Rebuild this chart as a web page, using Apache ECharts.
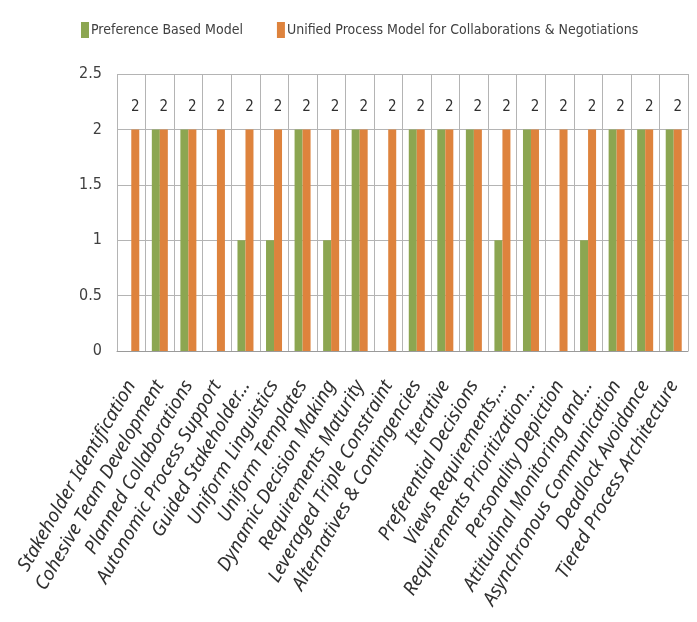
<!DOCTYPE html>
<html>
<head>
<meta charset="utf-8">
<script src="https://cdn.jsdelivr.net/npm/echarts@6/dist/echarts.min.js"></script>
<style>
  html, body { margin: 0; padding: 0; background: #fff; }
  #chart { width: 697px; height: 622px; }
</style>
</head>
<body>
<div id="chart"></div>
<script>
const categories = [
  'Stakeholder Identification', 'Cohesive Team Development', 'Planned Collaborations',
  'Autonomic Process Support', 'Guided Stakeholder...', 'Uniform Linguistics',
  'Uniform Templates', 'Dynamic Decision Making', 'Requirements Maturity',
  'Leveraged Triple Constraint', 'Alternatives & Contingencies', 'Iterative',
  'Preferential Decisions', 'Views Requirements,...', 'Requirements Prioritization...',
  'Personality Depiction', 'Attitudinal Monitoring and...', 'Asynchronous Communication',
  'Deadlock Avoidance', 'Tiered Process Architecture'
]
const preferenceModel = [0, 2, 2, 0, 1, 1, 2, 1, 2, 0, 2, 2, 2, 1, 2, 0, 1, 2, 2, 2]
const unifiedModel = [2, 2, 2, 2, 2, 2, 2, 2, 2, 2, 2, 2, 2, 2, 2, 2, 2, 2, 2, 2]
const yTicks = [0, 0.5, 1, 1.5, 2, 2.5]

const narrow = '"Liberation Sans Narrow", "DejaVu Sans Condensed", sans-serif'
const gridColor = '#b4b4b4'

var myChart = echarts.init(document.getElementById('chart'))
var option = {
  animation: false,
  legend: {
    top: 17,
    left: 76,
    width: 640,
    itemWidth: 8,
    itemHeight: 16,
    itemGap: 34,
    icon: 'rect',
    textStyle: { fontFamily: narrow, fontSize: 14, color: '#404040', padding: [0, 0, 0, -3] },
    data: ['Preference Based Model', 'Unified Process Model for Collaborations & Negotiations']
  },
  grid: { left: 117, right: 9, top: 74, bottom: 271, containLabel: false },
  xAxis: {
    type: 'category',
    data: categories,
    axisLine: { lineStyle: { color: '#9a9a9a', width: 1 } },
    axisTick: { show: false },
    splitLine: { show: true, interval: 0, lineStyle: { color: gridColor } },
    axisLabel: {
      interval: 0,
      rotate: 60,
      margin: 31,
      fontFamily: '"Noto Sans", sans-serif',
      fontStyle: 'italic',
      fontSize: 19,
      color: '#303030'
    }
  },
  yAxis: {
    type: 'value',
    min: yTicks[0],
    max: yTicks[yTicks.length - 1],
    interval: 0.5,
    axisLine: { show: false },
    axisTick: { show: false },
    splitLine: { lineStyle: { color: gridColor } },
    axisLabel: { fontFamily: narrow, fontSize: 16, color: '#404040', margin: 15 }
  },
  series: [
    {
      name: 'Preference Based Model',
      type: 'bar',
      barWidth: 8,
      barGap: '0%',
      itemStyle: { color: '#8ca651' },
      data: preferenceModel
    },
    {
      name: 'Unified Process Model for Collaborations & Negotiations',
      type: 'bar',
      barWidth: 8,
      itemStyle: { color: '#de833d' },
      label: {
        show: true,
        position: 'top',
        distance: 15,
        fontFamily: narrow,
        fontSize: 15,
        color: '#303030'
      },
      data: unifiedModel
    }
  ]
}
myChart.setOption(option)
</script>
</body>
</html>
